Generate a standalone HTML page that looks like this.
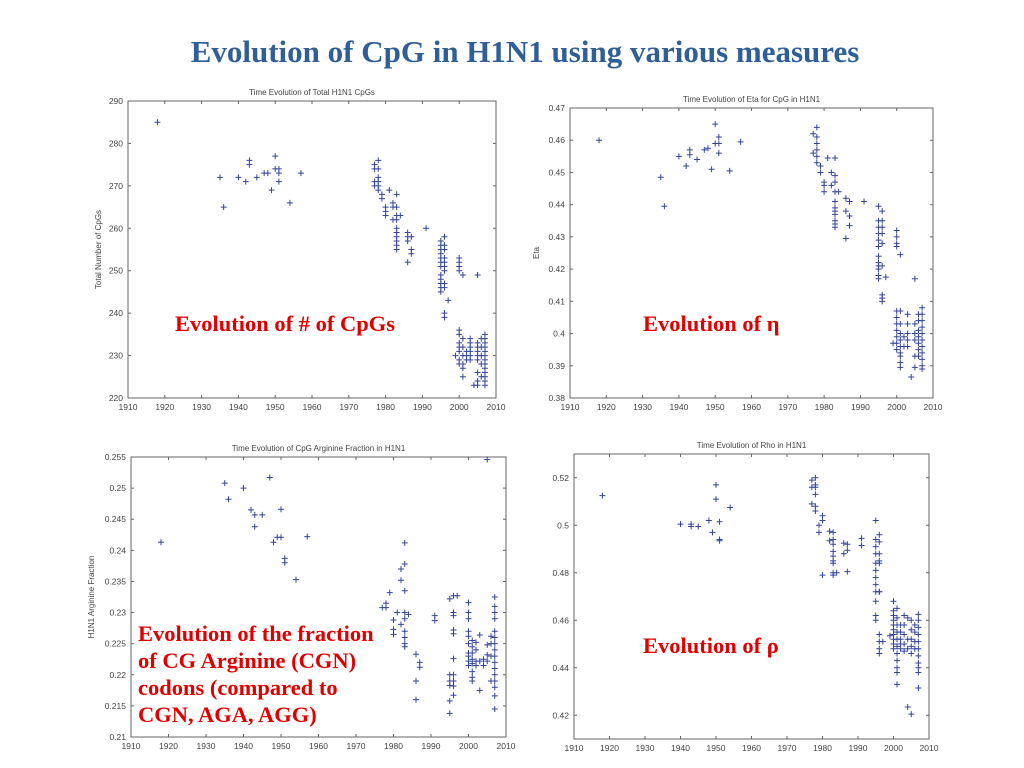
<!DOCTYPE html>
<html><head><meta charset="utf-8"><style>
html,body{margin:0;padding:0;background:#fff;}
#wrap{position:relative;width:1024px;height:768px;overflow:hidden;}
svg{position:absolute;left:0;top:0;}
.ann{position:absolute;color:#e00000;font-family:"Liberation Serif",serif;font-weight:bold;font-size:22.5px;line-height:27px;white-space:nowrap;}
</style></head><body>
<div id="wrap">
<svg id="chart" width="1024" height="768">
<text x="525" y="62" text-anchor="middle" font-family="Liberation Serif,serif" font-weight="bold" font-size="31" fill="#2f5f96">Evolution of CpG in H1N1 using various measures</text>
</svg>
<div class="ann" style="left:175px;top:310px;">Evolution of # of CpGs</div>
<div class="ann" style="left:643px;top:310px;">Evolution of η</div>
<div class="ann" style="left:138px;top:620px;">Evolution of the fraction<br>of CG Arginine (CGN)<br>codons (compared to<br>CGN, AGA, AGG)</div>
<div class="ann" style="left:643px;top:632px;">Evolution of ρ</div>
</div>
<script>
const xTicks = [1910,1920,1930,1940,1950,1960,1970,1980,1990,2000,2010];

const years1 = [1918,1935,1936,1940,1942,1943,1945,1947,1948,1949,1950,1951,1954,1957,1977,1978,1979,1980,1981,1982,1983,1984,1986,1987,1991,1995,1996,1997,2000,2001,2005,1999,2000,2001,2002,2003,2004,2005,2006,2007];
const vals1 = [[285],[272],[265],[272],[271],[276,275],[272],[273],[273],[269],[277,274],[274,273,271],[266],[273],[275,274,271,270],[276,274,272,271,270,269],[268,267],[265,264,263],[269],[266,265,262],[268,265,263,262,260,259,258,257,256,255],[263],[259,258,257,252],[258,255,254],[260],[257,256,255,254,253,252,251,249,248,247,246,245],[258,256,255,253,252,251,250,247,246,240,239],[243],[253,252,251,250],[249],[249],[230],[236,235,233,232,231,229,228],[234,232,230,228,227,225],[231,230,229],[234,233,232,231,230,229],[223],[233,232,231,230,229,226,224,223],[234,232,230,228,225],[235,234,233,232,231,230,229,228,227,226,225,224,223]];
const yTicks1 = [220,230,240,250,260,270,280,290];

const years2 = [1918,1935,1936,1940,1942,1943,1945,1947,1948,1949,1950,1951,1954,1957,1977,1978,1979,1980,1981,1982,1983,1984,1986,1987,1991,1995,1996,1997,2000,2001,2005,1999,2000,2001,2002,2003,2004,2005,2006,2007];
const vals2 = [[.460],[.4485],[.4395],[.455],[.452],[.457,.4555],[.454],[.457],[.4575],[.451],[.465,.459],[.461,.459,.456],[.4505],[.4595],[.462,.456],[.464,.461,.459,.457,.455,.453],[.452,.450],[.447,.446,.444],[.4545],[.450,.446],[.4545,.449,.447,.444,.441,.439,.438,.437,.435,.434,.433],[.444],[.442,.438,.4295],[.441,.4365,.4335],[.441],[.4395,.435,.433,.431,.429,.427,.424,.422,.421,.420,.418,.417],[.438,.435,.433,.431,.428,.421,.412,.411,.410],[.4175],[.432,.430,.428,.427],[.4245],[.417],[.397],[.407,.405,.403,.401,.399,.397,.395],[.407,.403,.400,.398,.396,.394,.393,.391,.3895],[.399,.396],[.406,.403,.400,.398,.396],[.3865],[.403,.400,.398,.393,.3895],[.406,.404,.401,.399,.397,.395,.393],[.408,.406,.404,.402,.400,.398,.396,.394,.392,.390,.389]];
const yTicks2 = [0.38,0.39,0.4,0.41,0.42,0.43,0.44,0.45,0.46,0.47];
const yTickLabels2 = ["0.38","0.39","0.4","0.41","0.42","0.43","0.44","0.45","0.46","0.47"];

const years3 = [1918,1935,1936,1940,1942,1943,1945,1947,1948,1949,1950,1951,1954,1957,2005,1977,1978,1979,1980,1981,1982,1983,1984,1986,1987,1991,1995,1996,1997,2000,2001,2002,2003,2004,2005,2006,2007];
const vals3 = [[.2413],[.2508],[.2482],[.2500],[.2465],[.2457,.2438],[.2457],[.2517],[.2413],[.2421],[.2466,.2421],[.2387,.2380],[.2353],[.2422],[.2546],[.2308],[.2315,.2308],[.2332],[.2288,.2273,.2265],[.2300],[.2370,.2352,.2281],[.2412,.2378,.2335,.2300,.2290,.2270,.2260,.2250,.2245],[.2297],[.2233,.2190,.2160],[.2220,.2212],[.2295,.2287],[.2322,.2200,.2190,.2183,.2158,.2138],[.2327,.2300,.2295,.2272,.2266,.2226,.2200,.2190,.2182,.2167],[.2327],[.2316,.2300,.2290,.2270,.2262,.2250,.2235,.2230,.2222,.2215],[.2255,.2245,.2235,.2225,.2218,.2205,.2196,.2190],[.2252,.2240,.2222,.2215],[.2264,.2222,.2175],[.2225,.2215],[.2248,.2232,.2222],[.2262,.2250,.2230,.2190],[.2325,.2310,.2300,.2290,.2270,.2260,.2250,.2240,.2230,.2220,.2210,.2200,.2190,.2180,.2166,.2145]];
const yTicks3 = [0.21,0.215,0.22,0.225,0.23,0.235,0.24,0.245,0.25,0.255];
const yTickLabels3 = ["0.21","0.215","0.22","0.225","0.23","0.235","0.24","0.245","0.25","0.255"];

const years4 = [1918,1940,1943,1945,1948,1949,1950,1951,1954,1977,1978,1979,1980,1982,1983,1984,1986,1987,1991,1995,1996,1997,1999,2000,2001,2002,2003,2004,2005,2006,2007];
const vals4 = [[.5125],[.5005],[.5005,.4995],[.4995],[.502],[.497],[.517,.511],[.5015,.494,.4935],[.5075],[.519,.516,.509],[.520,.517,.516,.513,.508,.506],[.500,.497],[.504,.502,.479],[.4975,.4935],[.497,.494,.492,.489,.487,.485,.484,.480,.479],[.480],[.4925,.488],[.492,.4895,.4805],[.4945,.4915],[.502,.494,.491,.488,.484,.481,.478,.475,.472,.468,.462,.460],[.496,.493,.488,.485,.484,.472,.472,.454,.451,.448,.446],[.451],[.4535],[.468,.464,.462,.460,.458,.456,.454,.452,.450,.448],[.465,.461,.458,.455,.452,.449,.446,.443,.440,.438,.433],[.458,.455,.452,.450,.448],[.462,.458,.454,.450,.447],[.4235,.461,.452,.448],[.4205,.460,.456,.452,.449,.446],[.458,.455,.451,.448],[.4625,.460,.457,.454,.451,.448,.445,.442,.440,.438,.4315]];
const yTicks4 = [0.42,0.44,0.46,0.48,0.5,0.52];
const yTickLabels4 = ["0.42","0.44","0.46","0.48","0.5","0.52"];

const NS = "http://www.w3.org/2000/svg";
const svg = document.getElementById('chart');
function mk(tag, attrs, parent){
  const e = document.createElementNS(NS, tag);
  for (const k in attrs) e.setAttribute(k, attrs[k]);
  (parent||svg).appendChild(e);
  return e;
}
function txt(x,y,s,anchor,size,parent,rot){
  const t = mk('text',{x:x,y:y,'text-anchor':anchor,'font-family':'Liberation Sans,sans-serif','font-size':size,fill:'#444'},parent);
  if (rot) t.setAttribute('transform','rotate(-90 '+x+' '+y+')');
  t.textContent = s;
  return t;
}
function panel(id, box, xMin, xMax, yMin, yMax, yTicks, yLabels, years, vals, title, yTitle, yTitleX, xLabY){
  const g = mk('g',{});
  
  
  const sx = v => box.x0 + (v - xMin) / (xMax - xMin) * (box.x1 - box.x0);
  const sy = v => box.y1 - (v - yMin) / (yMax - yMin) * (box.y1 - box.y0);
  const frame = mk('rect',{x:box.x0,y:box.y0,width:box.x1-box.x0,height:box.y1-box.y0,fill:'none',stroke:'#666','stroke-width':1},g);
  
  
  xTicks.forEach(v=>{
    const x = sx(v);
    mk('line',{x1:x,x2:x,y1:box.y1,y2:box.y1-3,stroke:'#666'},g);
    mk('line',{x1:x,x2:x,y1:box.y0,y2:box.y0+3,stroke:'#666'},g);
    const t = txt(x, xLabY, String(v), 'middle', 8.5, g);
    
    
  });
  yTicks.forEach((v,i)=>{
    const y = sy(v);
    mk('line',{x1:box.x0,x2:box.x0+3,y1:y,y2:y,stroke:'#666'},g);
    mk('line',{x1:box.x1,x2:box.x1-3,y1:y,y2:y,stroke:'#666'},g);
    const t = txt(box.x0-5, y+3, yLabels ? yLabels[i] : String(v), 'end', 8.5, g);
    
    
  });
  const tt = txt((box.x0+box.x1)/2, box.y0-6, title, 'middle', 8, g);
  
  
  if (yTitle){
    const yt = txt(yTitleX, (box.y0+box.y1)/2, yTitle, 'middle', 8, g, true);
    
    
  }
  const pg = mk('g',{stroke:'#34449a','stroke-width':1},g);
  
  
  years.forEach((yr,i)=>{
    vals[i].forEach(v=>{
      const x = sx(yr), y = sy(v);
      const p = mk('path',{d:'M'+(x-3)+' '+y+'H'+(x+3)+'M'+x+' '+(y-3)+'V'+(y+3)},pg);
      
      
    });
  });
}
panel('panel-total-cpgs',{x0:128,x1:496,y0:101,y1:398},1910,2010,220,290,yTicks1,null,years1,vals1,'Time Evolution of Total H1N1 CpGs','Total Number of CpGs',101,410);
panel('panel-eta',{x0:570,x1:933,y0:108,y1:398},1910,2010,0.38,0.47,yTicks2,yTickLabels2,years2,vals2,'Time Evolution of Eta for CpG in H1N1','Eta',539,410);
panel('panel-arginine',{x0:131,x1:506,y0:457,y1:737},1910,2010,0.21,0.255,yTicks3,yTickLabels3,years3,vals3,'Time Evolution of CpG Arginine Fraction in H1N1','H1N1 Arginine Fraction',94,749);
panel('panel-rho',{x0:574,x1:929,y0:454,y1:739},1910,2010,0.41,0.53,yTicks4,yTickLabels4,years4,vals4,'Time Evolution of Rho in H1N1',null,0,751);
</script>
</body></html>
